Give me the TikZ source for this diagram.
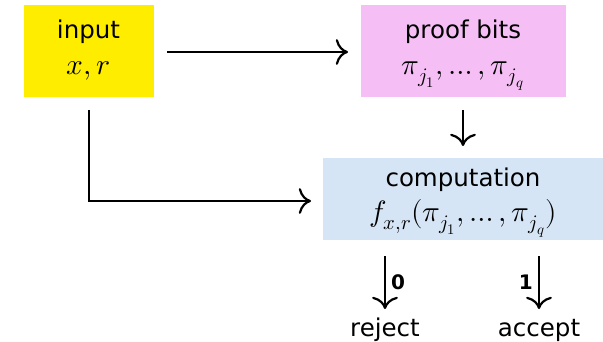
\documentclass[tikz,border=0pt]{standalone}
\usepackage{unicode-math}
\setmainfont{DejaVu Sans}
\setmathfont{Latin Modern Math}[Scale=1.2]
\usetikzlibrary{arrows.meta}
\definecolor{ylw}{RGB}{255,237,0}
\definecolor{pnk}{RGB}{245,191,245}
\definecolor{blu}{RGB}{213,229,245}
\tikzset{
  box/.style={draw=none,inner sep=0pt,anchor=north west},
  lbl/.style={anchor=base,inner sep=0pt,font=\fontsize{24.5}{29}\selectfont},
  conn/.style={line width=2.2pt,-{To[scale=1.9]}},
  bit/.style={inner sep=0pt,font=\fontsize{20}{23}\selectfont\bfseries}
}
\begin{document}
\begin{tikzpicture}[x=1pt,y=-1pt]
\useasboundingbox (0,0) rectangle (603,342);
% boxes
\node[box,fill=ylw,minimum width=130pt,minimum height=92pt] (inbox) at (24,5) {};
\node[box,fill=pnk,minimum width=205pt,minimum height=92pt] (pfbox) at (361,5) {};
\node[box,fill=blu,minimum width=281pt,minimum height=82pt] (cpbox) at (323,158) {};
% texts
\node[lbl] (in1) at (88.5,39) {input};
\node[lbl] (in2) at (88.5,75) {$x,r$};
\node[lbl] (pf1) at (463,39) {proof bits};
\node[lbl] (pf2) at (463,75) {$\pi_{j_1},\ldots,\pi_{j_q}$};
\node[lbl] (cp1) at (463,187) {computation};
\node[lbl] (cp2) at (463,222) {$f_{x,r}(\pi_{j_1},\ldots,\pi_{j_q})$};
\node[lbl] (rej) at (385,336) {reject};
\node[lbl] (acc) at (539,336) {accept};
% connector end points
\coordinate (a1s) at (167,52);
\coordinate (a1e) at (348,52);
\coordinate (a2s) at (463,110);
\coordinate (a2e) at (463,146);
\coordinate (a3s) at (89,110);
\coordinate (a3c) at (89,201);
\coordinate (a3e) at (311,201);
\coordinate (a4s) at (385,256);
\coordinate (a4e) at (385,309);
\coordinate (a5s) at (539,256);
\coordinate (a5e) at (539,309);
\draw[conn] (a1s) -- (a1e);
\draw[conn] (a2s) -- (a2e);
\draw[conn] (a3s) -- (a3c) -- (a3e);
\draw[conn] (a4s) -- node[bit,right=5pt] (b0) {0} (a4e);
\draw[conn] (a5s) -- node[bit,left=5pt] (b1) {1} (a5e);
\end{tikzpicture}
\end{document}
